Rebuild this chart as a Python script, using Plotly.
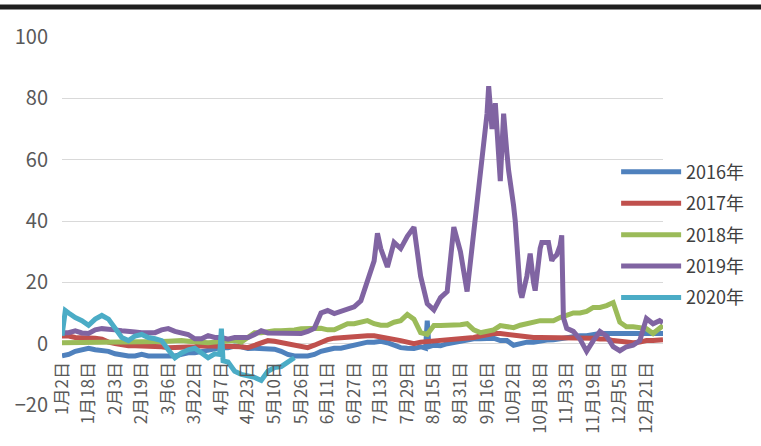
import pandas as pd
import plotly.graph_objects as go

# ---------------- categories (calendar days on the axis) ----------------
all_days = pd.date_range("2020-01-02", "2020-12-31", freq="D")
skipped_days = ["2020-05-01", "2020-08-01"]
categories = [f"{d.month}月{d.day}日" for d in all_days if d.strftime("%Y-%m-%d") not in skipped_days]
tick_labels = categories[::16]

# sampling grid: every 4th day plus the last day
grid_dates = categories[::4] + [categories[-1]]

# ---------------- series values ----------------
v2016 = [-4, -3.5, -2.5, -2, -1.5, -2, -2.3, -2.5, -3.3, -3.8,
         -4, -4, -3.5, -4, -4, -4, -4, -4, -3.5, -3,
         -3, -2.5, -2, -1.5, -1.3, -1.3, -0.8, -1, -1.6, -1.5,
         -1.6, -1.6, -1.8, -2.5, -3.5, -4, -4, -4, -3.5, -2.5,
         -2, -1.5, -1.5, -1, -0.5, 0, 0.5, 0.5, 0.8, 0.3,
         -0.5, -1.3, -1.5, -1.6, -1, 7.5, -0.5, -0.7, 0, 0.5,
         1, 1.5, 1.6, 1.6, 1.6, 1.8, 1, 1, -0.5, 0,
         0.5, 0.5, 1, 1.2, 1.3, 1.6, 2, 2.5, 2.6, 2.6,
         3, 3.3, 3.3, 3.3, 3, 3, 3.3, 3.3, 3.3, 3.3,
         3.3, 3.3]
v2017 = [2.5, 2.5, 2, 2, 1.6, 1.8, 1.5, 0.5, 0, -0.5,
         -0.7, -0.7, -0.7, -0.7, -1, -1, -1.3, -1.3, -1.3, -1,
         -1, -0.7, -0.7, -0.7, -0.7, -0.7, -0.8, -1, -1.3, -0.5,
         0.5, 1, 0.8, 0.3, 0, -0.7, -1, -1.3, -0.5, 0.5,
         1.3, 1.8, 2, 2, 2, 2.3, 2.6, 2.6, 2.3, 2,
         1.5, 1, 0.5, 0, 0.5, 0.7, 1, 1.2, 1.3, 1.5,
         1.6, 1.6, 2, 2.5, 3, 3.3, 3.3, 3, 2.6, 2.6,
         2.3, 2, 2, 2, 2, 2, 1.6, 1.6, 2, 2,
         1.8, 1.5, 1.5, 1, 0.7, 0.3, 0.3, 0.5, 1, 1,
         1.3, 1.3]
v2018 = [0.3, 0.3, 0.5, 0.5, 0.3, 0.3, 0.5, 0.5, 0.3, 0.3,
         0.3, 0.5, 0.3, 0.3, 0.5, 0.7, 0.8, 1, 1, 0.8,
         0.5, 0.5, 0.3, 0.5, 0.8, 1, 1, 0.5, 2, 3.6,
         3.6, 4, 4.2, 4.2, 4.2, 4.5, 4.9, 4.9, 5.2, 5,
         4.5, 4.5, 5.5, 6.5, 6.5, 6.8, 7.5, 6.5, 6, 6,
         7, 7.5, 9.5, 8, 3.6, 3, 5.9, 5.9, 5.9, 5.9,
         6.2, 6.5, 4.5, 3.6, 4.2, 4.5, 5.9, 5.5, 5.2, 6,
         6.5, 7, 7.5, 7.5, 7.5, 8.5, 9.2, 10, 10, 10.5,
         11.8, 11.8, 12.4, 13.4, 7, 5.5, 5.5, 5.2, 4.9, 3.3,
         5, 5.9]
v2019 = [3.6, 3.6, 4.2, 3.5, 3.3, 4.5, 4.9, 4.9, 4.5, 4.2,
         4.2, 3.8, 3.6, 3.6, 3.6, 4.5, 4.9, 4, 3.3, 3,
         1.6, 1.6, 2.6, 2, 2, 1.5, 2, 2, 2, 3,
         4.2, 3.5, 3.5, 3.6, 3.3, 3.3, 3.3, 4, 5, 10,
         10.8, 9.8, 10.5, 11, 12, 14, 21, 27, 31, 25,
         33, 31, 35, 38, 22, 13, 11, 15, 17, 38,
         30, 17, 36, 53, 75, 74, 53, 62, 45, 17,
         22, 20, 31, 33, 28, 32, 5, 4, 1.5, -2.5,
         1, 4, 2.5, -1, -2.3, -1, -0.5, 1, 8.2, 6.5,
         7.5, 6.9]
v2020 = [2.6, 10, 8.5, 7.5, 6, 8, 9.2, 8, 5, 2,
         1, 2.5, 3, 2, 1.6, 1, -2, -4.6, -3, -2,
         -1.5, -3, -4.6, -3.3, 4.9, -6, -9, -10, -10.5, -11,
         -12, -9, -7.8, -7.5, -6, -4.6]

# extra readings between grid days (spikes)
extra_2016_days = ["8月10日", "8月12日"]
extra_2016_vals = [-1.5, -1]
extra_2019_days = ["7月11日", "9月10日", "9月13日", "9月15日", "9月17日", "9月19日", "9月21日",
                   "9月26日", "9月29日", "10月3日", "10月7日", "10月12日", "10月15日", "10月19日",
                   "10月23日", "10月25日", "10月28日", "10月31日", "11月1日"]
extra_2019_vals = [36, 46.7, 60, 67, 84, 70, 78.4, 75, 56.5, 40, 15, 29.4, 17.3, 33,
                   33, 27, 29, 35.3, 8.5]
extra_2020_days = ["1月4日", "4月6日", "4月8日"]
extra_2020_vals = [10.8, -3.5, -5.6]

series_names = ["2016年", "2017年", "2018年", "2019年", "2020年"]
series_colors = ["#4F81BD", "#C0504D", "#9BBB59", "#8064A2", "#4BACC6"]
series_values = [v2016, v2017, v2018, v2019, v2020]
series_extra = [(extra_2016_days, extra_2016_vals), ([], []), ([], []),
                (extra_2019_days, extra_2019_vals), (extra_2020_days, extra_2020_vals)]

order = {c: i for i, c in enumerate(categories)}

fig = go.Figure()
for name, color, vals, (ed, ev) in zip(series_names, series_colors, series_values, series_extra):
    pts = dict(zip(grid_dates[:len(vals)], vals))
    pts.update(dict(zip(ed, ev)))
    xs = sorted(pts, key=lambda c: order[c])
    fig.add_trace(go.Scatter(
        x=xs, y=[pts[c] for c in xs], mode="lines", name=name,
        line=dict(color=color, width=5), legendgroup=name,
    ))

fig.update_layout(
    width=761, height=446,
    margin=dict(l=62, r=98, t=37, b=41, autoexpand=False),
    paper_bgcolor="white", plot_bgcolor="white",
    font=dict(family="Noto Sans CJK SC", color="#595959"),
    showlegend=True,
    legend=dict(
        x=0.922, xanchor="left", y=0.683, yanchor="top",
        font=dict(size=18, color="#404040"),
        bgcolor="rgba(0,0,0,0)", itemwidth=60,
        traceorder="grouped", tracegroupgap=5,
    ),
    xaxis=dict(
        type="category", categoryorder="array", categoryarray=categories,
        range=[0, len(categories) - 1],
        tickmode="array", tickvals=tick_labels, ticktext=tick_labels,
        tickangle=-90, tickfont=dict(size=17, color="#595959"),
        showgrid=False, showline=False, ticks="", zeroline=False,
        anchor="free", position=1 / 6, ticklabelstandoff=14, automargin=False,
    ),
    yaxis=dict(
        range=[-20, 100], dtick=20, tick0=0,
        showgrid=True, gridcolor="#D9D9D9", gridwidth=1,
        zeroline=True, zerolinecolor="#D9D9D9", zerolinewidth=1,
        showline=False, ticks="", automargin=False,
        tickfont=dict(size=20, color="#595959"), ticklabelstandoff=13,
    ),
    shapes=[dict(type="line", xref="paper", yref="paper",
                 x0=-62 / 601, x1=(761 - 62) / 601, y0=(446 - 41 - 7) / 368, y1=(446 - 41 - 7) / 368,
                 line=dict(color="#1F1F1F", width=5))],
)

fig.write_html("out.html", config={"displayModeBar": False},
               post_script="document.body.style.margin='0';document.body.style.overflow='hidden';")
